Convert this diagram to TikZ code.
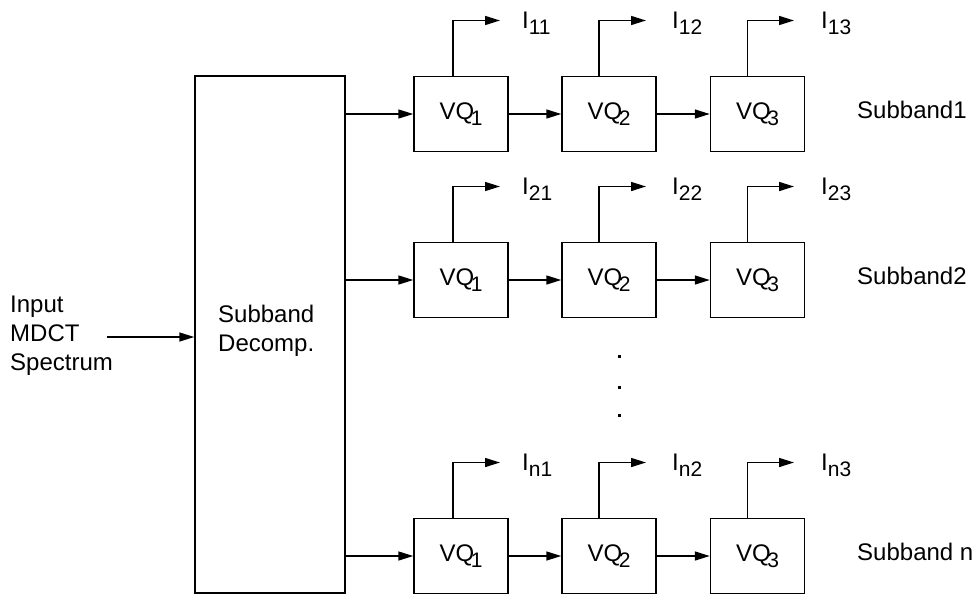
\documentclass[tikz,border=0pt]{standalone}
\usepackage{fontspec}
\setmainfont{Liberation Sans}
\usetikzlibrary{arrows.meta}
\newcommand{\sbs}[1]{\kern-0.14em\raisebox{-0.26em}{\fontsize{21}{21}\selectfont #1}}
\newcommand{\sbi}[1]{\raisebox{-0.27em}{\fontsize{21}{21}\selectfont #1}}
\tikzset{
  every node/.style={font=\fontsize{24}{29}\selectfont},
  vq/.style={draw, line width=1.5pt, minimum width=94pt, minimum height=75pt, inner sep=0pt},
  bigbox/.style={draw, line width=1.5pt, minimum width=150pt, minimum height=517pt, inner sep=0pt},
  arr/.style={-{Triangle[length=15pt,width=9pt]}, line width=1.5pt},
  txt/.style={inner sep=0pt, align=left},
  dotn/.style={fill=black, minimum size=3pt, inner sep=0pt}
}
\begin{document}
\begin{tikzpicture}[x=1pt,y=-1pt]
\useasboundingbox (0,0) rectangle (973,595);
\node[bigbox] (dec) at (270,334.5) {};
\node[txt, anchor=west] (dect) at (218,331) {Subband\\Decomp.};
\node[txt, anchor=west] (inp) at (10,336) {Input\\MDCT\\Spectrum};
\coordinate (in0) at (107,337);
\draw[arr] (in0) -- (dec.west |- in0);
\foreach \r/\y/\sl in {1/114/Subband1, 2/280/Subband2, n/556/Subband n} {
  \node[vq] (b\r1) at (461,\y) {VQ\sbs{1}};
  \node[vq] (b\r2) at (609,\y) {VQ\sbs{2}};
  \node[vq] (b\r3) at (757.5,\y) {VQ\sbs{3}};
  \draw[arr] (dec.east |- b\r1.west) -- (b\r1.west);
  \draw[arr] (b\r1) -- (b\r2);
  \draw[arr] (b\r2) -- (b\r3);
  \foreach \k/\o/\lx in {1/-8/522, 2/-10/672, 3/-10/821} {
    \coordinate (t\r\k) at (461+148*\k-148+\o+47, \y-93.5);
    \draw[arr] ([xshift=\o pt]b\r\k.north) |- (t\r\k);
    \node[inner sep=0pt, anchor=base west] (l\r\k) at (\lx, \y-86) {I\sbi{\r\k}};
  }
  \node[txt, anchor=west] (s\r) at (857, \y-4) {\sl};
}
\node[dotn] (d1) at (619,356) {};
\node[dotn] (d2) at (619,387) {};
\node[dotn] (d3) at (619,415) {};
\end{tikzpicture}
\end{document}
